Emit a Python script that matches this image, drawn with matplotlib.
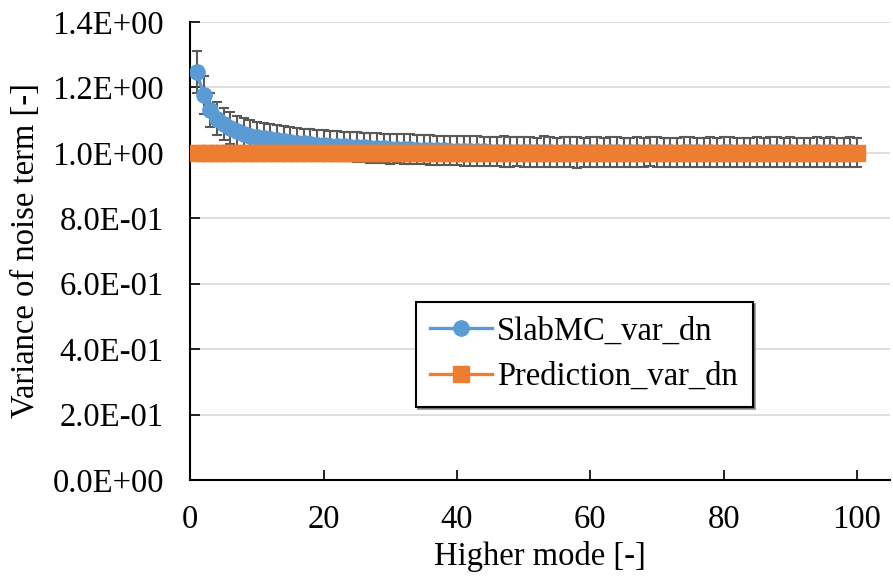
import matplotlib.pyplot as plt
from matplotlib.ticker import FuncFormatter, MultipleLocator

# mode numbers
modes = list(range(1, 101))

# SlabMC_var_dn
slab_mean = [1.247, 1.177, 1.131, 1.105, 1.088, 1.075, 1.066, 1.059, 1.053, 1.048,
             1.044, 1.041, 1.038, 1.035, 1.033, 1.031, 1.029, 1.027, 1.025, 1.024,
             1.022, 1.021, 1.020, 1.019, 1.018, 1.017, 1.016, 1.015, 1.014, 1.013,
             1.013, 1.012, 1.011, 1.010, 1.010, 1.009, 1.008, 1.008, 1.007, 1.007,
             1.006, 1.006, 1.005, 1.005, 1.004, 1.004, 1.004, 1.003, 1.003, 1.003,
             1.003, 1.002, 1.004, 1.002, 1.001, 1.003, 1.002, 1.001, 1.002, 1.003,
             1.002, 1.001, 1.002, 1.003, 1.001, 1.002, 1.002, 1.001, 1.003, 1.002,
             1.001, 1.002, 1.001, 1.002, 1.003, 1.002, 1.001, 1.002, 1.001, 1.002,
             1.003, 1.001, 1.002, 1.001, 1.002, 1.001, 1.002, 1.003, 1.001, 1.002,
             1.001, 1.002, 1.001, 1.002, 1.001, 1.002, 1.001, 1.001, 1.002, 1.001]

slab_err = [0.063, 0.058, 0.053, 0.051, 0.050, 0.049, 0.048, 0.048, 0.047, 0.047,
            0.047, 0.046, 0.046, 0.046, 0.046, 0.046, 0.045, 0.046, 0.045, 0.046,
            0.045, 0.046, 0.045, 0.045, 0.046, 0.045, 0.046, 0.045, 0.045, 0.046,
            0.045, 0.045, 0.046, 0.045, 0.045, 0.046, 0.045, 0.045, 0.044, 0.045,
            0.045, 0.046, 0.045, 0.044, 0.045, 0.045, 0.046, 0.045, 0.044, 0.045,
            0.045, 0.044, 0.046, 0.045, 0.044, 0.045, 0.045, 0.046, 0.044, 0.045,
            0.045, 0.044, 0.045, 0.046, 0.045, 0.044, 0.045, 0.045, 0.044, 0.046,
            0.045, 0.044, 0.045, 0.045, 0.046, 0.044, 0.045, 0.045, 0.044, 0.045,
            0.046, 0.045, 0.044, 0.045, 0.045, 0.044, 0.046, 0.045, 0.044, 0.045,
            0.045, 0.044, 0.045, 0.046, 0.044, 0.045, 0.045, 0.044, 0.045, 0.044]

# Prediction_var_dn
pred = [1.0] * 100

plt.rcParams['font.family'] = ['Liberation Serif', 'DejaVu Serif']
plt.rcParams['font.size'] = 23.5

fig = plt.figure(figsize=(8.93, 5.79), dpi=100)
ax = fig.add_axes([0.213, 0.171, 0.784, 0.791])

blue = '#5B9BD5'
orange = '#ED7D31'

ax.errorbar(modes, slab_mean, yerr=slab_err, fmt='none', ecolor='#595959',
            elinewidth=1.5, capsize=3.5, capthick=1.5, zorder=2)
ax.plot(modes, slab_mean, color=blue, lw=2.4, marker='o', ms=11,
        label='SlabMC_var_dn', zorder=3)
ax.plot(modes, pred, color=orange, lw=2.4, marker='s', ms=11,
        label='Prediction_var_dn', zorder=4)

ax.set_xlim(0, 105)
ax.set_ylim(0, 1.4)
ax.set_xticks([0, 20, 40, 60, 80, 100])
ax.yaxis.set_major_locator(MultipleLocator(0.2))
ax.yaxis.set_major_formatter(FuncFormatter(lambda v, p: f'{v:.1E}'))
ax.grid(axis='y', color='#D9D9D9', lw=1.2)
ax.set_axisbelow(True)

for s in ['top', 'right']:
    ax.spines[s].set_visible(False)
for s in ['left', 'bottom']:
    ax.spines[s].set_linewidth(1.5)
ax.tick_params(direction='in', length=7, width=1.2)
ax.tick_params(axis='y', pad=19)
ax.tick_params(axis='x', pad=18)

ax.set_xlabel('Higher mode [-]', labelpad=4)
ax.set_ylabel('Variance of noise term [-]', labelpad=8)

leg = ax.legend(loc='lower left', bbox_to_anchor=(0.322, 0.16), frameon=True,
                fancybox=False, shadow=True, edgecolor='black', framealpha=1,
                handlelength=1.9, borderpad=0.45, labelspacing=0.45,
                handletextpad=0.15, borderaxespad=0)
leg.get_frame().set_linewidth(1.5)

fig.savefig('out.png', dpi=100)
